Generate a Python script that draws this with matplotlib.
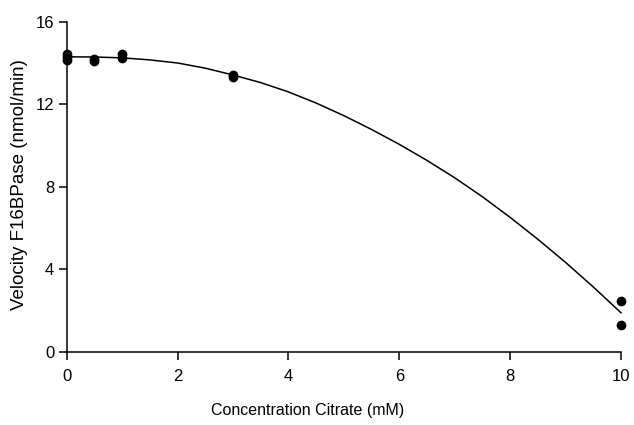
import numpy as np
import matplotlib
matplotlib.use("Agg")
import matplotlib.pyplot as plt

plt.rcParams['font.family'] = ['Liberation Sans', 'DejaVu Sans']

# measured velocities (nmol/min) at each citrate concentration (mM)
conc = [0, 0, 0, 0.5, 0.5, 1, 1, 3, 3, 10, 10]
vel = [14.42, 14.30, 14.15, 14.17, 14.12, 14.42, 14.26, 13.42, 13.33, 2.48, 1.31]

# fitted curve
fit_x = [0, 0.5, 1, 1.5, 2, 2.5, 3, 3.5, 4, 4.5, 5, 5.5, 6, 6.5, 7, 7.5,
         8, 8.5, 9, 9.5, 10]
fit_y = [14.30, 14.29, 14.25, 14.15, 14.00, 13.75, 13.42, 13.05, 12.60,
         12.06, 11.45, 10.78, 10.06, 9.28, 8.44, 7.52, 6.52, 5.46, 4.34,
         3.15, 1.90]

xticks = [0, 2, 4, 6, 8, 10]
yticks = [0, 4, 8, 12, 16]

fig = plt.figure(figsize=(6.34, 4.25), dpi=100)
ax = fig.add_axes([0.1052, 0.1718, 0.8743, 0.7771])

ax.plot(fit_x, fit_y, color='black', lw=1.1, clip_on=False)
ax.plot(conc, vel, 'o', color='black', ms=6, clip_on=False, zorder=5)

ax.set_xlim(0, 10)
ax.set_ylim(0, 16)
ax.set_xticks(xticks)
ax.set_yticks(yticks)

for s in ['top', 'right']:
    ax.spines[s].set_visible(False)
for s in ['left', 'bottom']:
    ax.spines[s].set_linewidth(1.1)
ax.tick_params(direction='out', length=6, width=1.1, labelsize=12)
ax.tick_params(axis='x', pad=6.5)
ax.tick_params(axis='y', pad=3)

fig.text(0.486, 0.035, 'Concentration Citrate (mM)', fontsize=11.5,
         ha='center', va='center')
fig.text(0.031, 0.565, 'Velocity F16BPase (nmol/min)', fontsize=13.5,
         ha='center', va='center', rotation=90)

fig.savefig('out.png', dpi=100)
